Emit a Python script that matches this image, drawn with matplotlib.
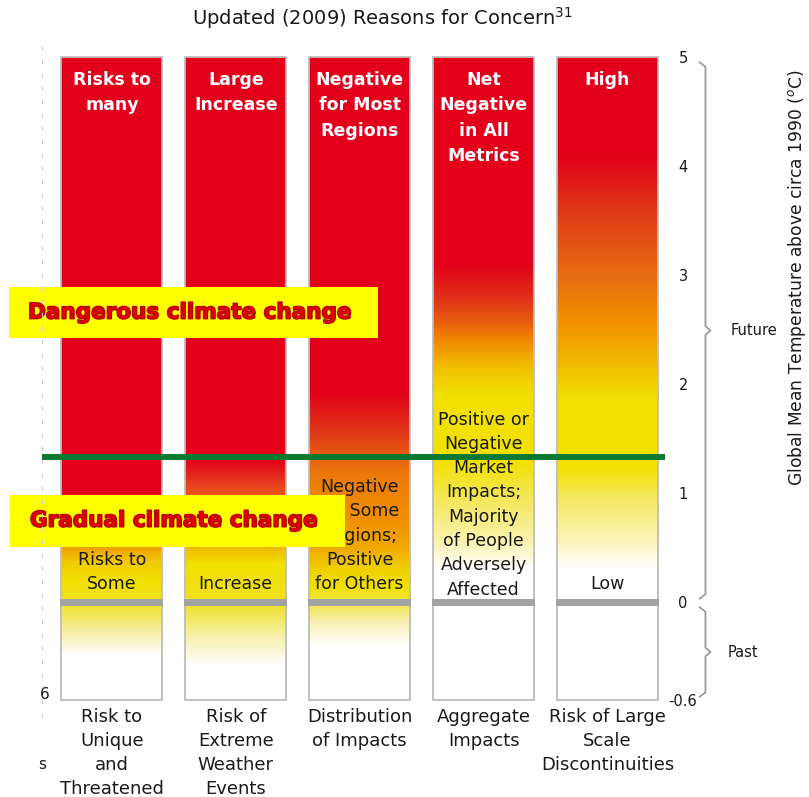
import numpy as np
import matplotlib
matplotlib.use("Agg")
import matplotlib.pyplot as plt
import matplotlib.patches as mpatches
import matplotlib.transforms as mtransforms
import matplotlib.patheffects as pe
from matplotlib.colors import to_rgb

# 数据
categories = ["Risk to\nUnique\nand\nThreatened", "Risk of\nExtreme\nWeather\nEvents",
              "Distribution\nof Impacts", "Aggregate\nImpacts",
              "Risk of Large\nScale\nDiscontinuities"]
top_labels = ["Risks to\nmany", "Large\nIncrease", "Negative\nfor Most\nRegions",
              "Net\nNegative\nin All\nMetrics", "High"]
low_labels = ["Risks to\nSome", "Increase",
              "Negative\nfor Some\nRegions;\nPositive\nfor Others",
              "Positive or\nNegative\nMarket\nImpacts;\nMajority\nof People\nAdversely\nAffected",
              "Low"]

RED = "#e2001a"
YEL = "#f2e000"
WHT = "#ffffff"

# 每列的颜色渐变节点 (温度, 颜色)
ember_stops = [
    [(-0.6, WHT), (-0.33, WHT), (-0.2, "#f7f0b0"), (0.0, "#f0e020"), (0.2, YEL),
     (0.37, "#f0c800"), (0.5, "#f0a000"), (0.68, "#ec7a0a"), (0.87, RED), (5.0, RED)],
    [(-0.6, WHT), (-0.39, WHT), (-0.22, "#f7f0b0"), (0.0, "#f0e020"), (0.35, YEL),
     (0.5, "#f0b800"), (0.8, "#ec7a0a"), (1.08, "#e84020"), (1.3, RED), (5.0, RED)],
    [(-0.6, WHT), (-0.27, WHT), (-0.12, "#f8f0b0"), (0.0, "#f0e440"), (0.15, YEL),
     (0.3, "#f0d000"), (0.5, "#f0a800"), (0.75, "#f09000"), (1.17, "#ec7a0a"),
     (1.54, "#e03a18"), (1.93, RED), (5.0, RED)],
    [(-0.6, WHT), (0.3, WHT), (0.55, "#fbf3b0"), (0.92, "#f5e860"), (1.3, YEL),
     (1.9, YEL), (2.15, "#f0c000"), (2.4, "#f08800"), (2.58, "#e85a10"),
     (2.79, "#e03018"), (3.1, RED), (5.0, RED)],
    [(-0.6, WHT), (0.3, WHT), (0.6, "#fbf3b0"), (0.95, "#f5e860"), (1.25, YEL),
     (1.87, YEL), (2.21, "#f0b800"), (2.58, "#f09000"), (2.95, "#e87010"),
     (3.56, "#e03c18"), (4.1, RED), (5.0, RED)],
]

temp_ticks = [5, 4, 3, 2, 1, 0, -0.6]
tick_labels = ["5", "4", "3", "2", "1", "0", "-0.6"]
threshold = 1.33          # 绿线
past_scale = 1.5          # 过去部分纵向拉伸


def to_plot(t):
    t = np.asarray(t, dtype=float)
    return np.where(t < 0, t * past_scale, t)


fig = plt.figure(figsize=(8.09, 7.97), dpi=100)
ax = fig.add_axes([0.0494, 0.1149, 0.7812, 0.8204])
ax.set_xlim(-0.58, 4.52)
ax.set_ylim(to_plot(-0.6) - 0.05, 5.05)
for s in ax.spines.values():
    s.set_visible(False)

bar_w = 0.815
ys = np.linspace(to_plot(-0.6), 5.0, 3000)
ts = np.where(ys < 0, ys / past_scale, ys)

for i, stops in enumerate(ember_stops):
    st = np.array([p[0] for p in stops])
    cols = np.array([to_rgb(p[1]) for p in stops])
    img = np.stack([np.interp(ts, st, cols[:, k]) for k in range(3)], axis=-1)[:, None, :]
    ax.imshow(img, origin="lower", aspect="auto", interpolation="nearest",
              extent=[i - bar_w / 2, i + bar_w / 2, to_plot(-0.6), 5.0], zorder=1)
    ax.add_patch(mpatches.Rectangle((i - bar_w / 2, to_plot(-0.6)), bar_w, 5.0 - to_plot(-0.6),
                                    fill=False, edgecolor="#bdbdbd", lw=1.3, zorder=2))
    ax.add_patch(mpatches.Rectangle((i - bar_w / 2 - 0.008, -0.035), bar_w + 0.016, 0.065,
                                    facecolor="#a3a3a3", edgecolor="none", zorder=3))
    ax.text(i, 4.87, top_labels[i], ha="center", va="top", color="white",
            fontsize=12.5, fontweight="bold", linespacing=1.52, zorder=4)

low_bottom = [0.08, 0.08, 0.08, 0.03, 0.08]
for i, lab in enumerate(low_labels):
    ax.text(i, low_bottom[i], lab, ha="center", va="bottom", color="#1a1a1a",
            fontsize=12.5, linespacing=1.45, zorder=4)

ax.set_xticks(range(len(categories)))
ax.set_xticklabels(categories, fontsize=13, linespacing=1.42, color="#1a1a1a")
ax.tick_params(axis="x", length=0, pad=2)

ax.yaxis.tick_right()
ax.set_yticks(to_plot(temp_ticks))
ax.set_yticklabels(tick_labels, fontsize=10.5, color="#1a1a1a")
ax.tick_params(axis="y", length=0, pad=8)
for lbl in ax.get_yticklabels():
    lbl.set_horizontalalignment("center")

# 绿线
ax.plot([-0.565, 4.46], [threshold, threshold], color="#0a7a30", lw=4.3,
        solid_capstyle="butt", zorder=5, clip_on=False)

# 黄色标注框
boxes = [("Dangerous climate change", -0.83, 2.145, 2.42, 2.89, -0.677),
         ("Gradual climate change", -0.823, 1.879, 0.506, 0.985, -0.661)]
for txt, x0, x1, y0, y1, tx in boxes:
    ax.add_patch(mpatches.Rectangle((x0, y0), x1 - x0, y1 - y0, facecolor="#ffff00",
                                    edgecolor="none", zorder=6, clip_on=False))
    ax.text(tx, (y0 + y1) / 2, txt, ha="left", va="center", color="#dd0000",
            fontsize=15.5, fontweight="bold", zorder=7, clip_on=False,
            path_effects=[pe.withStroke(linewidth=1.2, foreground="#a00000")])

# 右侧括号
bt = mtransforms.blended_transform_factory(ax.transAxes, ax.transData)
for lo, hi, lab, lx in [(0.03, 4.95, "Future", 1.13), (to_plot(-0.6) + 0.03, -0.05, "Past", 1.113)]:
    mid = (lo + hi) / 2
    xs = [1.044, 1.053, 1.053, 1.061, 1.053, 1.053, 1.044]
    yy = [hi, hi - 0.04, mid + 0.04, mid, mid - 0.04, lo + 0.04, lo]
    ax.plot(xs, yy, color="#9a9a9a", lw=1.3, transform=bt, clip_on=False)
    ax.text(lx, mid, lab, transform=bt, ha="center", va="center", fontsize=10.5,
            color="#1a1a1a")

fig.text(0.985, 0.652, "Global Mean Temperature above circa 1990 ($^{o}$C)",
         rotation=90, ha="center", va="center", fontsize=12.3, color="#1a1a1a")

fig.text(0.473, 0.977, r"Updated (2009) Reasons for Concern$^{31}$", ha="center",
         va="center", fontsize=14, color="#1a1a1a")

# 左侧残留
fig.text(0.055, 0.128, "6", ha="center", va="center", fontsize=11, color="#1a1a1a")
fig.text(0.052, 0.041, "s", ha="center", va="center", fontsize=11, color="#1a1a1a")
fig.add_artist(plt.Line2D([0.052, 0.052], [0.10, 0.945], color="#cccccc", lw=0.8,
                          linestyle=(0, (4, 8)), transform=fig.transFigure))

fig.savefig("out.png", dpi=100)
